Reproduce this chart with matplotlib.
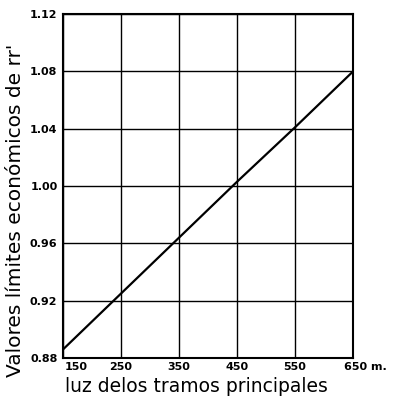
import matplotlib
matplotlib.use("Agg")
import matplotlib.pyplot as plt
from matplotlib.transforms import ScaledTranslation

span = [150, 250, 350, 450, 550, 650]
values = [0.886, 0.925, 0.964, 1.003, 1.041, 1.080]
x_ticks = [150, 250, 350, 450, 550, 650]
x_labels = ["150", "250", "350", "450", "550", "650 m."]
y_ticks = [0.88, 0.92, 0.96, 1.00, 1.04, 1.08, 1.12]
y_labels = ["0.88", "0.92", "0.96", "1.00", "1.04", "1.08", "1.12"]

fig = plt.figure(figsize=(3.99, 4.0), dpi=100)
ax = fig.add_axes([0.158, 0.105, 0.727, 0.86])
ax.plot(span, values, color="black", linewidth=1.6)
ax.set_xlim(150, 650)
ax.set_ylim(0.88, 1.12)
ax.set_xticks(x_ticks)
ax.set_xticklabels(x_labels, fontsize=8, fontweight="bold")
ax.set_yticks(y_ticks)
ax.set_yticklabels(y_labels, fontsize=8, fontweight="bold")
ax.tick_params(length=0)
ax.tick_params(axis="x", pad=3)
ax.tick_params(axis="y", pad=4)
ax.grid(True, color="black", linewidth=1.0)
for s in ax.spines.values():
    s.set_linewidth(1.5)
    s.set_color("black")
xls = ax.get_xticklabels()
xls[0].set_ha("left")
xls[0].set_transform(xls[0].get_transform() + ScaledTranslation(2 / 100, 0, fig.dpi_scale_trans))
xls[-1].set_ha("left")
xls[-1].set_transform(xls[-1].get_transform() + ScaledTranslation(-9 / 100, 0, fig.dpi_scale_trans))
ax.set_xlabel("luz delos tramos principales", fontsize=13.5)
ax.xaxis.set_label_coords(0.46, -0.055)
ax.set_ylabel("Valores límites económicos de rr'", fontsize=14.5)
ax.yaxis.set_label_coords(-0.13, 0.43)
fig.savefig("out.png", dpi=100)
